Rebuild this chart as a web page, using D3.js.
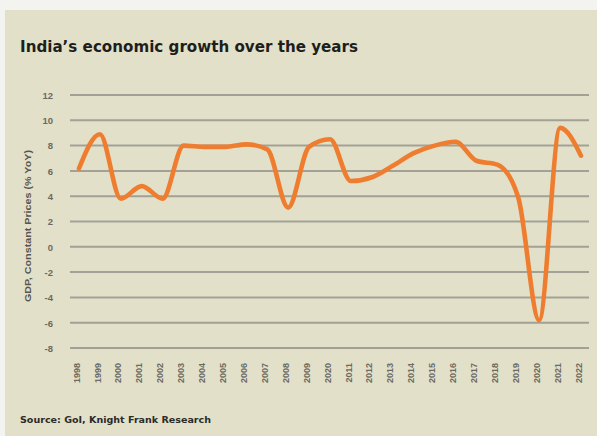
<!DOCTYPE html>
<html><head><meta charset="utf-8">
<script src="https://cdn.jsdelivr.net/npm/d3@7"></script>
<style>html,body{margin:0;padding:0;background:#f3f3ef;}svg{display:block;}</style>
</head><body>
<script>
const years = ["1998","1999","2000","2001","2002","2003","2004","2005","2006","2007","2008","2009","2010","2011","2012","2013","2014","2015","2016","2017","2018","2019","2020","2021","2022"];
const yearLabels = ["1998","1999","2000","2001","2002","2003","2004","2005","2006","2007","2008","2009","2020","2011","2012","2013","2014","2015","2016","2017","2018","2019","2020","2021","2022"];
const gdpGrowth = [6.2, 8.9, 3.8, 4.8, 3.8, 8.0, 7.9, 7.9, 8.1, 7.7, 3.1, 7.9, 8.5, 5.2, 5.5, 6.4, 7.4, 8.0, 8.3, 6.8, 6.5, 3.9, -5.8, 9.4, 7.2];
const yTicks = [12, 10, 8, 6, 4, 2, 0, -2, -4, -6, -8];
const title = "India\u2019s economic growth over the years";
const source = "Source: GoI, Knight Frank Research";
const yTitle = "GDP, Constant Prices (% YoY)";

const W = 597, H = 436;
const svg = d3.select("body").append("svg").attr("width", W).attr("height", H);
svg.append("rect").attr("x", 5).attr("y", 10).attr("width", W - 5).attr("height", H - 10).attr("fill", "#e2e0c9");

const x = d3.scalePoint().domain(years).range([79, 581]);
const y = d3.scaleLinear().domain([-8, 12]).range([348, 95]);
const gridX0 = 70, gridX1 = 589;

// gridlines
svg.append("g").selectAll("line").data(yTicks).join("line")
  .attr("x1", gridX0).attr("x2", gridX1)
  .attr("y1", d => y(d)).attr("y2", d => y(d))
  .attr("stroke", "#a3a196").attr("stroke-width", 2);

// y axis labels
const yAxis = d3.axisLeft(y).tickValues(yTicks).tickSize(0).tickPadding(0).tickFormat(d => String(d));
const gy = svg.append("g").attr("transform", "translate(53,0)").call(yAxis);
gy.select(".domain").remove();
gy.selectAll("text").attr("font-family", "Liberation Sans, Arial, sans-serif").attr("font-size", 9.5).attr("font-weight", "bold").attr("fill", "#6a6a62").attr("dy", "0.35em");

// x axis labels
const xAxis = d3.axisBottom(x).tickSize(0).tickPadding(0).tickFormat((d, i) => yearLabels[i]);
const gx = svg.append("g").attr("transform", "translate(-3,363)").call(xAxis);
gx.select(".domain").remove();
gx.selectAll("text")
  .attr("font-family", "Liberation Sans, Arial, sans-serif").attr("font-size", 9).attr("font-weight", "bold").attr("fill", "#6a6a62")
  .attr("transform", "rotate(-90)").attr("text-anchor", "end").attr("x", 0).attr("y", 0).attr("dx", 0).attr("dy", "0.35em");

// y title
svg.append("text").attr("transform", "translate(31,226) rotate(-90)").attr("text-anchor", "middle")
  .attr("font-family", "Liberation Sans, Arial, sans-serif").attr("font-size", 9).attr("font-weight", "bold").attr("fill", "#55554e")
  .attr("textLength", 152).attr("lengthAdjust", "spacingAndGlyphs")
  .text(yTitle);

// line
const line = d3.line().x((d, i) => x(years[i])).y(d => y(d)).curve(d3.curveMonotoneX);
svg.append("path").datum(gdpGrowth).attr("d", line).attr("fill", "none")
  .attr("stroke", "#ef7d2f").attr("stroke-width", 4.6).attr("stroke-linejoin", "round").attr("stroke-linecap", "round");

// title
svg.append("text").attr("x", 20).attr("y", 52)
  .attr("font-family", "DejaVu Sans, sans-serif").attr("font-size", 15).attr("font-weight", "bold").attr("fill", "#1e1e1c")
  .attr("textLength", 338).attr("lengthAdjust", "spacingAndGlyphs")
  .text(title);

// source
svg.append("text").attr("x", 20).attr("y", 423)
  .attr("font-family", "DejaVu Sans, sans-serif").attr("font-size", 9.5).attr("font-weight", "bold").attr("fill", "#2b2b28")
  .attr("textLength", 191).attr("lengthAdjust", "spacingAndGlyphs")
  .text(source);
</script>
</body></html>
